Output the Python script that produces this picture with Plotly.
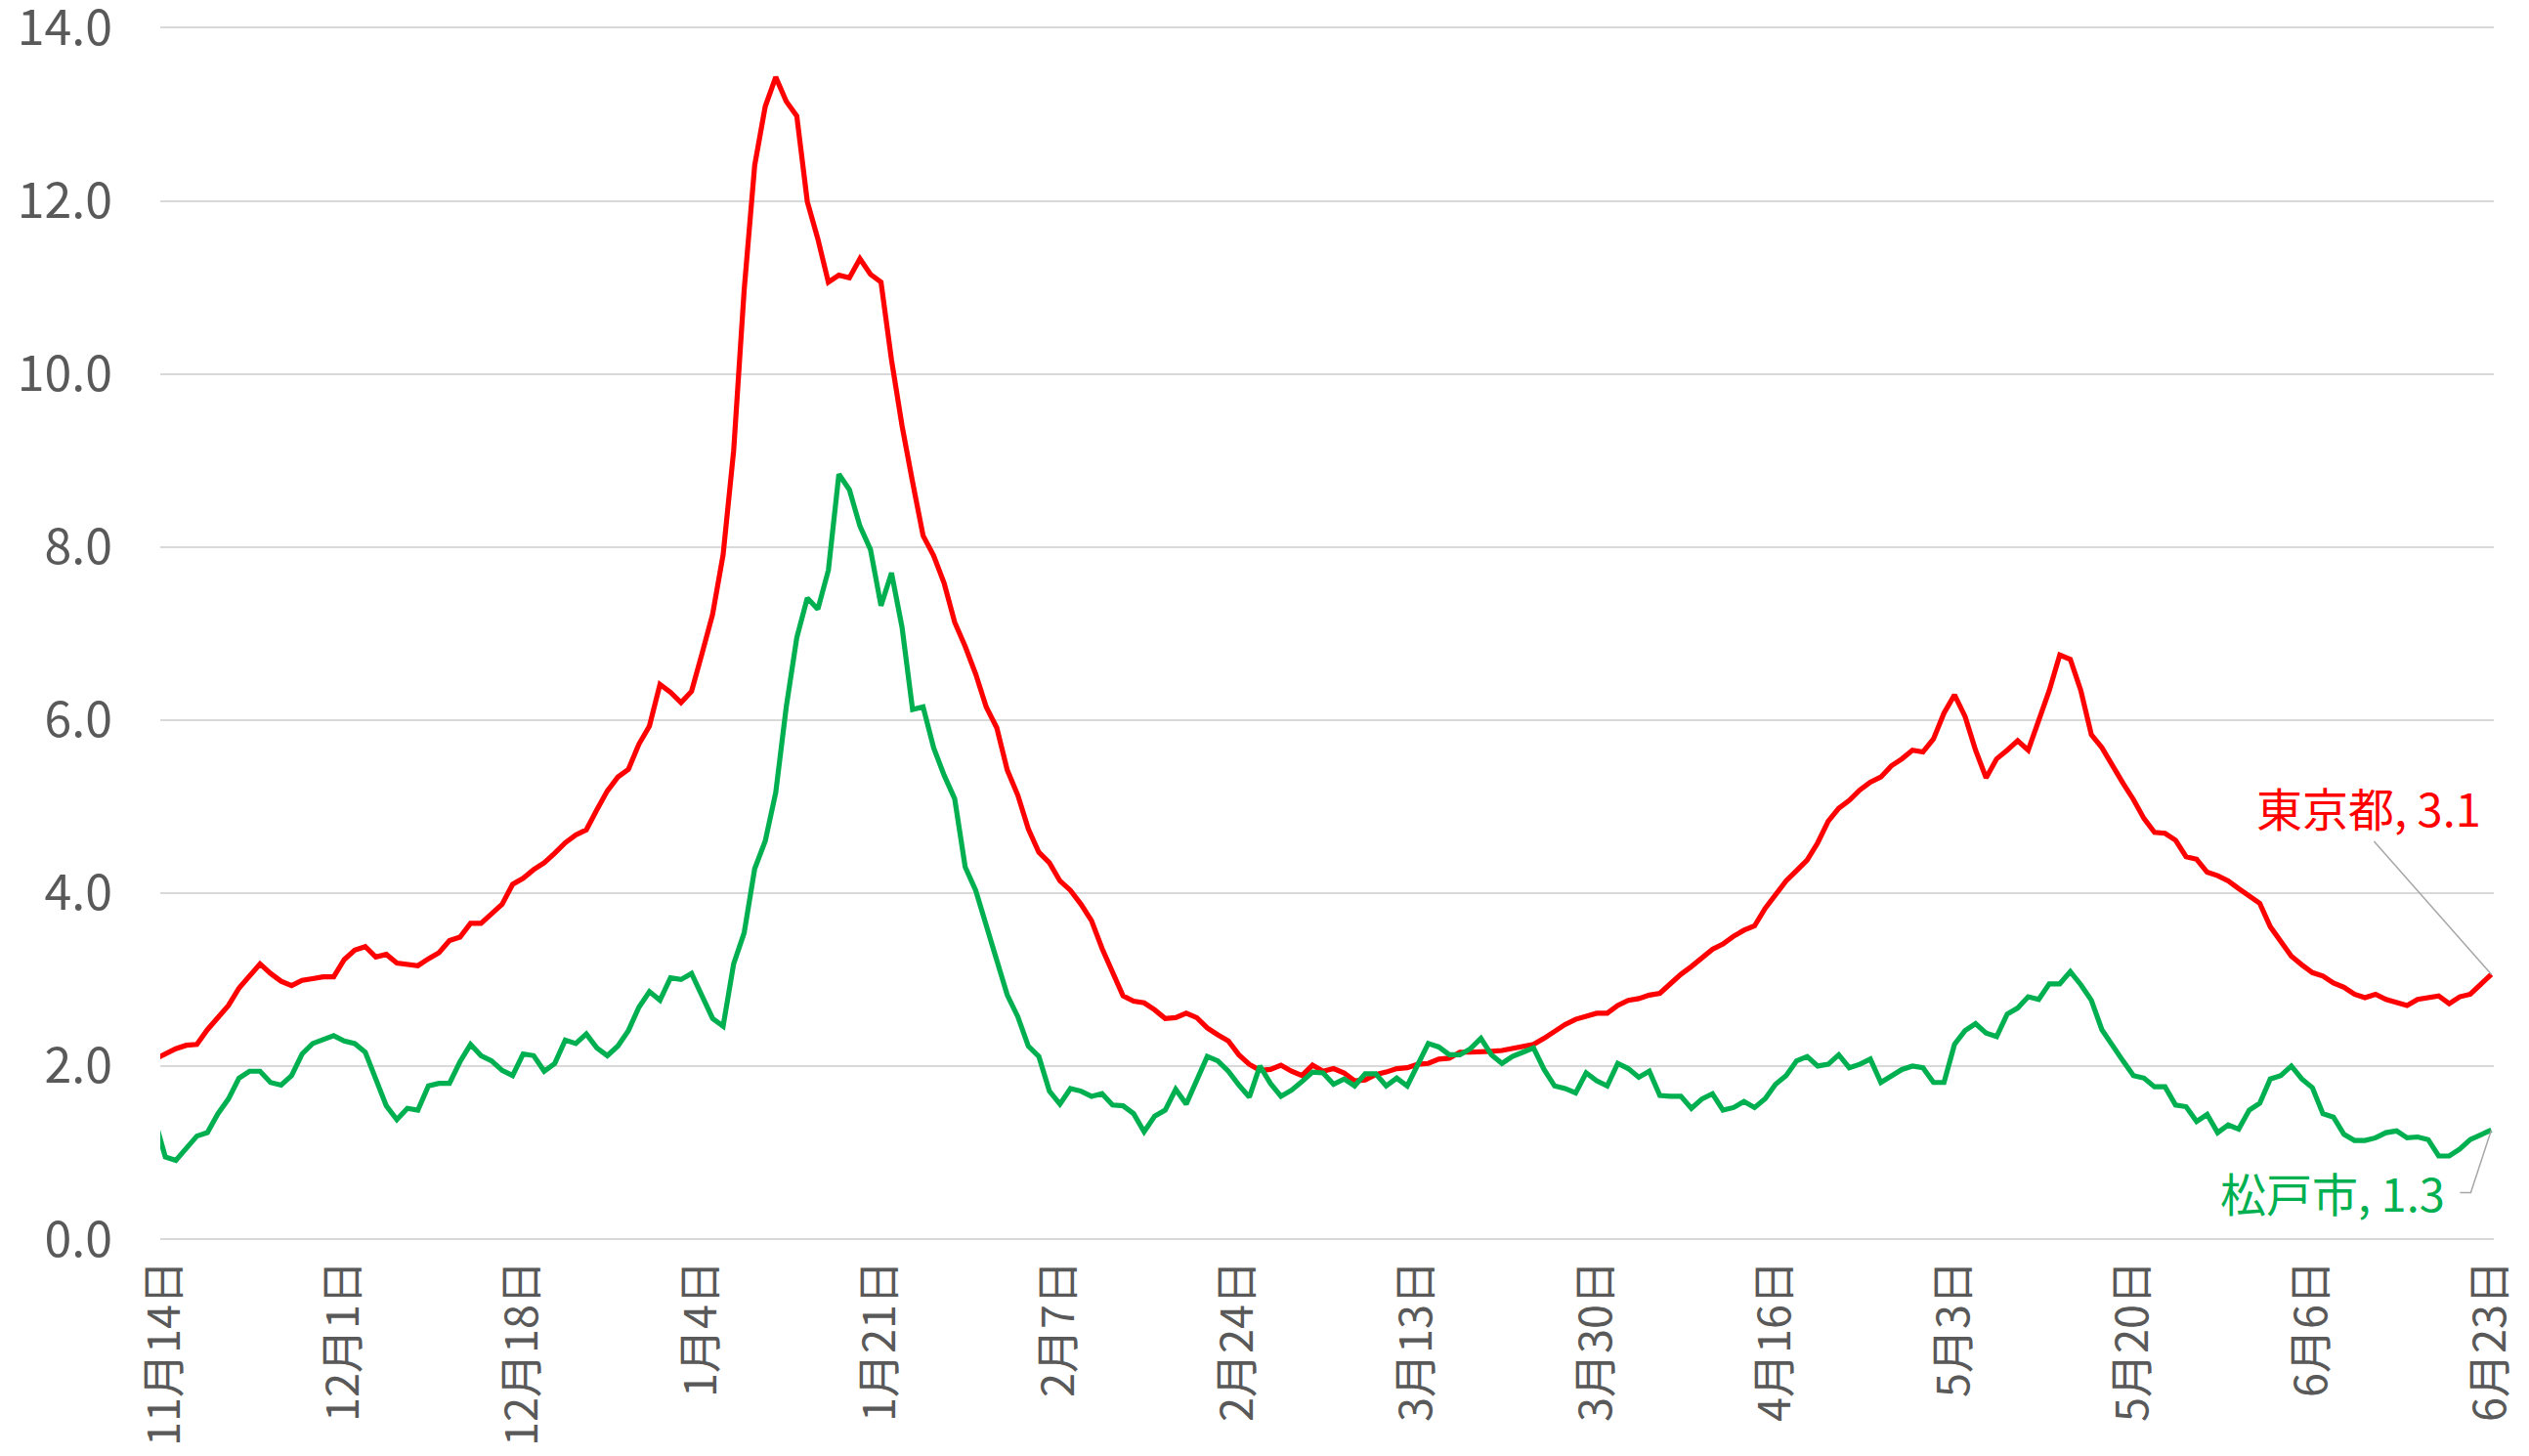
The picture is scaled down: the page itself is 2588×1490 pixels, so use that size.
import pandas as pd
import plotly.graph_objects as go

# ---- data (daily, 2020-11-13 .. 2021-06-23) ----
start_date = "2020-11-13"
end_date = "2021-06-23"

tick_labels = ["11月14日", "12月1日", "12月18日", "1月4日", "1月21日", "2月7日", "2月24日",
               "3月13日", "3月30日", "4月16日", "5月3日", "5月20日", "6月6日", "6月23日"]

tokyo = [
    2.08, 2.14, 2.20, 2.24, 2.25, 2.42, 2.55, 2.70, 2.90, 3.05, 3.18, 3.07, 2.98, 2.93, 2.99, 3.01,
    3.03, 3.03, 3.23, 3.34, 3.38, 3.26, 3.29, 3.19, 3.17, 3.16, 3.24, 3.31, 3.45, 3.49, 3.65, 3.65,
    3.76, 3.87, 4.10, 4.17, 4.27, 4.35, 4.46, 4.58, 4.67, 4.73, 4.96, 5.18, 5.34, 5.43, 5.72, 5.93,
    6.41, 6.32, 6.20, 6.33, 6.77, 7.22, 7.91, 9.11, 10.97, 12.41, 13.09, 13.43, 13.15, 12.98, 11.99, 11.56,
    11.06, 11.14, 11.11, 11.33, 11.15, 11.06, 10.16, 9.40, 8.75, 8.13, 7.90, 7.58, 7.13, 6.85, 6.53, 6.15,
    5.91, 5.42, 5.13, 4.74, 4.47, 4.35, 4.14, 4.03, 3.87, 3.68, 3.36, 3.08, 2.81, 2.75, 2.73, 2.65,
    2.55, 2.56, 2.61, 2.56, 2.44, 2.36, 2.29, 2.13, 2.02, 1.95, 1.96, 2.01, 1.94, 1.89, 2.01, 1.94,
    1.97, 1.92, 1.83, 1.84, 1.90, 1.93, 1.97, 1.98, 2.02, 2.03, 2.08, 2.09, 2.16, 2.16, 2.16, 2.17,
    2.18, 2.20, 2.23, 2.25, 2.32, 2.40, 2.48, 2.54, 2.58, 2.61, 2.61, 2.70, 2.76, 2.78, 2.82, 2.84,
    2.95, 3.06, 3.15, 3.25, 3.35, 3.41, 3.50, 3.57, 3.62, 3.82, 3.97, 4.14, 4.26, 4.38, 4.58, 4.83,
    4.98, 5.07, 5.19, 5.28, 5.34, 5.47, 5.55, 5.65, 5.63, 5.78, 6.08, 6.29, 6.04, 5.65, 5.33, 5.55,
    5.65, 5.76, 5.65, 6.00, 6.34, 6.75, 6.70, 6.34, 5.83, 5.68, 5.46, 5.27, 5.08, 4.86, 4.70, 4.69,
    4.61, 4.42, 4.39, 4.24, 4.20, 4.14, 4.05, 3.96, 3.88, 3.61, 3.43, 3.27, 3.17, 3.08, 3.04, 2.96,
    2.91, 2.83, 2.79, 2.83, 2.77, 2.74, 2.70, 2.77, 2.79, 2.81, 2.72, 2.80, 2.83, 2.94, 3.06,
]

matsudo = [
    1.38, 0.95, 0.91, 1.05, 1.19, 1.23, 1.45, 1.62, 1.86, 1.94, 1.94, 1.81, 1.78, 1.89, 2.14, 2.26,
    2.31, 2.35, 2.29, 2.26, 2.16, 1.86, 1.54, 1.38, 1.51, 1.49, 1.77, 1.80, 1.80, 2.05, 2.25, 2.12,
    2.06, 1.95, 1.89, 2.14, 2.12, 1.94, 2.03, 2.30, 2.26, 2.37, 2.21, 2.12, 2.23, 2.41, 2.68, 2.86,
    2.76, 3.02, 3.00, 3.07, 2.80, 2.55, 2.46, 3.18, 3.54, 4.28, 4.60, 5.16, 6.15, 6.95, 7.41, 7.28,
    7.73, 8.84, 8.66, 8.24, 7.97, 7.32, 7.70, 7.07, 6.12, 6.15, 5.68, 5.36, 5.09, 4.30, 4.03, 3.62,
    3.24, 2.82, 2.57, 2.23, 2.11, 1.71, 1.56, 1.74, 1.71, 1.65, 1.68, 1.55, 1.54, 1.45, 1.24, 1.42,
    1.49, 1.73, 1.56, 1.84, 2.11, 2.06, 1.94, 1.78, 1.64, 2.00, 1.80, 1.65, 1.72, 1.82, 1.93, 1.92,
    1.79, 1.85, 1.77, 1.91, 1.91, 1.77, 1.86, 1.77, 2.01, 2.26, 2.22, 2.13, 2.13, 2.20, 2.32, 2.13,
    2.03, 2.11, 2.16, 2.21, 1.96, 1.77, 1.74, 1.69, 1.92, 1.83, 1.77, 2.03, 1.97, 1.87, 1.94, 1.66,
    1.65, 1.65, 1.51, 1.62, 1.68, 1.49, 1.52, 1.59, 1.52, 1.62, 1.79, 1.89, 2.06, 2.11, 2.00, 2.02,
    2.13, 1.98, 2.02, 2.08, 1.81, 1.89, 1.96, 2.00, 1.98, 1.81, 1.81, 2.25, 2.41, 2.49, 2.38, 2.34,
    2.60, 2.67, 2.80, 2.77, 2.95, 2.95, 3.09, 2.94, 2.76, 2.42, 2.23, 2.06, 1.89, 1.86, 1.76, 1.76,
    1.55, 1.53, 1.36, 1.44, 1.23, 1.32, 1.27, 1.49, 1.57, 1.85, 1.89, 2.00, 1.85, 1.75, 1.45, 1.41,
    1.21, 1.14, 1.14, 1.17, 1.23, 1.25, 1.17, 1.18, 1.15, 0.96, 0.96, 1.04, 1.15, 1.21, 1.26,
]

series_names = ["東京都", "松戸市"]
series_colors = ["#FF0000", "#00B050"]

dates = pd.date_range(start_date, end_date, freq="D")
assert len(dates) == len(tokyo) == len(matsudo)
tick_dates = pd.date_range("2020-11-14", end_date, freq="17D")

FONT = "Noto Sans CJK JP"
LEADER = dict(color="#A6A6A6", width=1.5)

fig = go.Figure()
fig.add_trace(go.Scatter(x=dates, y=tokyo, mode="lines", name=series_names[0],
                         line=dict(color=series_colors[0], width=5.2)))
fig.add_trace(go.Scatter(x=dates, y=matsudo, mode="lines", name=series_names[1],
                         line=dict(color=series_colors[1], width=5.2)))

# data labels for the last points, with leader lines
fig.add_annotation(x=dates[-1], y=tokyo[-1], text=f"{series_names[0]}, {tokyo[-1]:.1f}",
                   showarrow=False, xanchor="center", yanchor="middle", xshift=-125, yshift=172,
                   font=dict(family=FONT, size=47, color=series_colors[0]))
fig.add_shape(type="path", xref="x", yref="y", xsizemode="pixel", ysizemode="pixel",
              xanchor=dates[-1], yanchor=tokyo[-1], path="M0,0 L-120,136", line=LEADER)
fig.add_annotation(x=dates[-1], y=matsudo[-1], text=f"{series_names[1]}, {matsudo[-1]:.1f}",
                   showarrow=False, xanchor="right", yanchor="middle", xshift=-45, yshift=-63,
                   font=dict(family=FONT, size=47, color=series_colors[1]))
fig.add_shape(type="path", xref="x", yref="y", xsizemode="pixel", ysizemode="pixel",
              xanchor=dates[-1], yanchor=matsudo[-1], path="M0,0 L-21,-64 L-32,-64", line=LEADER)

# the page body has an 8px default margin, so the figure is sized to fit the window
fig.update_layout(
    width=2580, height=1482,
    margin=dict(l=156, r=36, t=15.6, b=222),
    paper_bgcolor="white", plot_bgcolor="white",
    showlegend=False,
    font=dict(family=FONT, color="#595959"),
)
fig.update_xaxes(
    type="date", automargin=False,
    range=["2020-11-13 12:30", "2021-06-23 05:45"],
    tickmode="array", tickvals=tick_dates, ticktext=tick_labels,
    tickangle=-90, tickfont=dict(family=FONT, size=45, color="#595959"),
    showgrid=False, zeroline=False, showline=False, ticks="",
    ticklabelstandoff=12, ticklabeloverflow="allow",
)
fig.update_yaxes(
    automargin=False,
    range=[0, 14.05], tickmode="array", tickvals=[0, 2, 4, 6, 8, 10, 12, 14], tickformat=".1f",
    tickfont=dict(family=FONT, size=50, color="#595959"),
    showgrid=True, gridcolor="#D9D9D9", gridwidth=2,
    zeroline=True, zerolinecolor="#D9D9D9", zerolinewidth=2,
    showline=False, ticks="", ticklabelstandoff=48, ticklabeloverflow="allow",
)

fig.write_html("out.html")
